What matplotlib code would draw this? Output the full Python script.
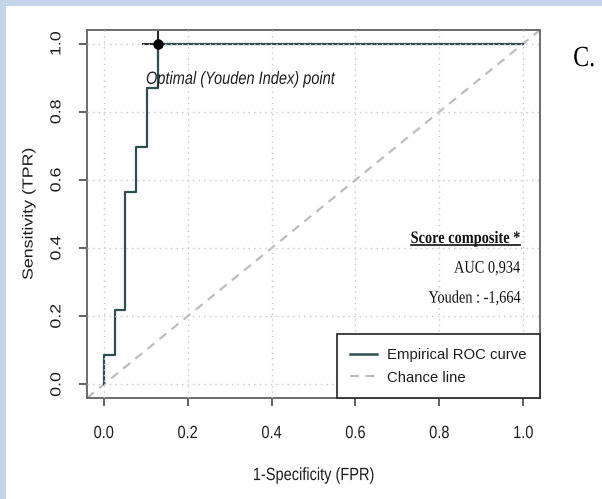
import matplotlib
matplotlib.use("Agg")
import matplotlib.pyplot as plt
from matplotlib.patches import Rectangle
from matplotlib.lines import Line2D
from matplotlib.patheffects import AbstractPathEffect
from matplotlib.transforms import Affine2D

# ROC step corners (false positive rate, true positive rate)
fpr = [0.0, 0.0256, 0.0513, 0.0769, 0.1026, 0.1282, 1.0]
tpr = [0.0, 0.087, 0.2174, 0.5652, 0.6957, 0.8696, 1.0]

# Youden optimum
opt_fpr = 0.1282
opt_tpr = 1.0

ticks = [0.0, 0.2, 0.4, 0.6, 0.8, 1.0]
tick_labels = ["0.0", "0.2", "0.4", "0.6", "0.8", "1.0"]

title_txt = "Score composite *"
auc_txt = "AUC 0,934"
youden_txt = "Youden : -1,664"
panel_txt = "C."

SANS = ["Liberation Sans", "DejaVu Sans"]
SERIF = ["Liberation Serif", "DejaVu Serif"]
FS = 12.8
SX = 0.82


class Squeeze(AbstractPathEffect):
    """Narrow the glyph outlines horizontally around an anchor point."""

    def __init__(self, sx=SX, anchor=0.5):
        super().__init__()
        self.sx = sx
        self.anchor = anchor

    def draw_path(self, renderer, gc, tpath, affine, rgbFace=None):
        ext = tpath.get_extents(affine)
        x0 = ext.x0 + self.anchor * (ext.x1 - ext.x0)
        aff = affine + Affine2D().translate(-x0, 0).scale(self.sx, 1).translate(x0, 0)
        renderer.draw_path(gc, tpath, aff, rgbFace)


curve_col = "#2f4f4f"
chance_col = "#bdbdbd"
grid_col = "#c6c6c6"
frame_col = "#6b6b6b"
ink = "#1e1e1e"

W, H = 602, 499
fig = plt.figure(figsize=(W / 100, H / 100), dpi=100)
fig.patch.set_facecolor("white")

# light blue frame strips along top and left
band = "#c4d4e9"
fig.add_artist(Rectangle((0, 1 - 6 / H), 1, 6 / H, transform=fig.transFigure,
                         facecolor=band, edgecolor="none", zorder=0))
fig.add_artist(Rectangle((0, 0), 6 / W, 1, transform=fig.transFigure,
                         facecolor=band, edgecolor="none", zorder=0))

ax = fig.add_axes([87 / W, 1 - 398 / H, (540 - 87) / W, (398 - 30) / H])
ax.set_xlim(-0.04, 1.04)
ax.set_ylim(-0.04, 1.04)

# dotted reference grid
for t in ticks:
    ax.axvline(t, color=grid_col, lw=1.0, ls=(0, (1, 3)), zorder=3)
    ax.axhline(t, color=grid_col, lw=1.0, ls=(0, (1, 3)), zorder=3)

# chance diagonal
ax.axline((0, 0), (1, 1), color=chance_col, lw=1.6, ls=(0, (4, 3)), zorder=2)

# cross marking the optimum
ax.plot([opt_fpr - 0.035, opt_fpr + 0.035], [opt_tpr, opt_tpr],
        color="#2a2a2a", lw=1.5, zorder=1.5)
ax.plot([opt_fpr, opt_fpr], [opt_tpr - 0.045, opt_tpr + 0.045],
        color="#2a2a2a", lw=1.5, zorder=1.5)

# empirical ROC curve
ax.step(fpr, tpr, where="pre", color=curve_col, lw=1.6, zorder=2.5)
ax.plot([opt_fpr], [opt_tpr], "o", color="black", ms=6.5, zorder=4)

ax.text(opt_fpr - 0.028, 0.895, "Optimal (Youden Index) point", style="italic",
        family=SANS, fontsize=FS, color=ink, ha="left", va="center", zorder=5,
        path_effects=[Squeeze(anchor=0.0)])

# score annotation block
SFS = 12.6
t1 = ax.text(0.993, 0.415, title_txt, family=SERIF, fontweight="bold", fontsize=SFS,
             ha="right", va="baseline", color="#111111", zorder=5,
             path_effects=[Squeeze(anchor=1.0)])
ax.text(0.993, 0.328, auc_txt, family=SERIF, fontsize=SFS,
        ha="right", va="baseline", color="#111111", zorder=5,
        path_effects=[Squeeze(anchor=1.0)])
ax.text(0.993, 0.24, youden_txt, family=SERIF, fontsize=SFS,
        ha="right", va="baseline", color="#111111", zorder=5,
        path_effects=[Squeeze(anchor=1.0)])

# axes styling
for s in ax.spines.values():
    s.set_color(frame_col)
    s.set_linewidth(1.4)
ax.set_xticks(ticks)
ax.set_yticks(ticks)
ax.set_xticklabels(tick_labels, family=SANS, fontsize=FS, color=ink)
ax.set_yticklabels(tick_labels, family=SANS, fontsize=FS, color=ink,
                   rotation=90, va="center")
for lab in ax.get_xticklabels() + ax.get_yticklabels():
    lab.set_path_effects([Squeeze(anchor=0.5)])
ax.tick_params(axis="both", direction="out", length=5.5, width=1.2, color="#444444")
ax.tick_params(axis="x", pad=14)
ax.tick_params(axis="y", pad=10)

ax.set_xlabel("1-Specificity (FPR)", family=SANS, fontsize=FS, color=ink,
              labelpad=18, path_effects=[Squeeze(anchor=0.5)])
ax.set_ylabel("Sensitivity (TPR)", family=SANS, fontsize=FS, color=ink,
              labelpad=8, path_effects=[Squeeze(anchor=0.5)])

handles = [Line2D([], [], color=curve_col, lw=1.8),
           Line2D([], [], color=chance_col, lw=1.6, ls=(0, (4, 3)))]
LFS = 10.7
leg = ax.legend(handles, ["Empirical ROC curve", "Chance line"],
                loc="lower right", bbox_to_anchor=(1, 0), borderaxespad=0,
                frameon=True, fancybox=False, framealpha=1,
                prop={"family": SANS, "size": LFS},
                handlelength=1.85, handletextpad=0.65, labelspacing=0.6,
                borderpad=0.9)
leg.get_frame().set_edgecolor("#333333")
leg.get_frame().set_linewidth(1.3)
leg.set_zorder(6)
for txt in leg.get_texts():
    txt.set_color(ink)

fig.text(573 / W, 1 - 66 / H, panel_txt, family=SERIF, fontsize=21,
         ha="left", va="baseline", color="black",
         path_effects=[Squeeze(anchor=0.0)])

# underline the score heading (extent of the narrowed glyphs)
fig.canvas.draw()
bb = t1.get_window_extent(renderer=fig.canvas.get_renderer())
x_right = bb.x1
x_left = bb.x1 - SX * (bb.x1 - bb.x0)
y_u = bb.y0 + 1.5
fig.add_artist(Line2D([x_left / W, x_right / W], [y_u / H, y_u / H],
                      transform=fig.transFigure, color="#111111", lw=1.2))

fig.savefig("out.png", dpi=100, facecolor="white")
